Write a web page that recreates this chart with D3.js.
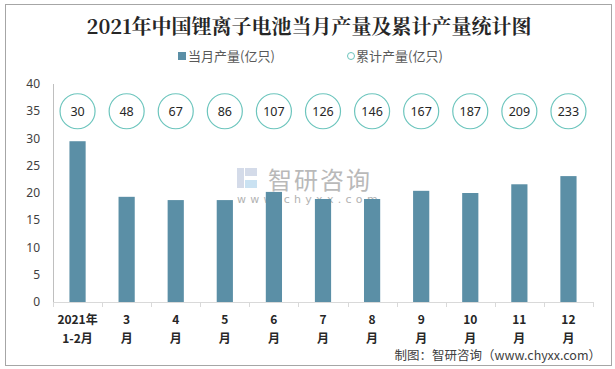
<!DOCTYPE html>
<html><head><meta charset="utf-8">
<script src="https://cdn.jsdelivr.net/npm/d3@7"></script>
<style>body{margin:0;background:#fff}svg{display:block}</style>
</head><body>
<script>
const categories = [["2021年","1-2月"],["3","月"],["4","月"],["5","月"],["6","月"],["7","月"],["8","月"],["9","月"],["10","月"],["11","月"],["12","月"]];
const monthly = [29.5, 19.3, 18.7, 18.7, 20.2, 18.9, 18.9, 20.4, 20.0, 21.6, 23.1];
const cumulative = [30, 48, 67, 86, 107, 126, 146, 167, 187, 209, 233];
const yTicks = [0, 5, 10, 15, 20, 25, 30, 35, 40];
const circleLevel = 35;

const W = 615, H = 369;
const svg = d3.select("body").append("svg").attr("width", W).attr("height", H);
svg.append("rect").attr("x",5.5).attr("y",4.5).attr("width",606).attr("height",361)
  .attr("fill","#fff").attr("stroke","#a6a6a6");

const m = {l:53, r:593, t:84, b:302};
const x = d3.scaleBand().domain(categories.map((d,i)=>i)).range([m.l, m.r]).paddingInner(0.67).paddingOuter(0.335);
const xb = d3.scaleBand().domain(categories.map((d,i)=>i)).range([m.l, m.r]);
const y = d3.scaleLinear().domain([0,40]).range([m.b, m.t]);

// title
svg.append("text").attr("x",309).attr("y",34).attr("text-anchor","middle")
  .attr("font-family","'Noto Serif CJK SC','Noto Sans CJK SC',serif").attr("font-weight","bold")
  .attr("font-size",20).attr("fill","#262626").text("2021年中国锂离子电池当月产量及累计产量统计图");

// legend
const lg = svg.append("g").attr("font-family","'Noto Sans CJK SC',sans-serif").attr("font-size",13).attr("fill","#595959");
lg.append("rect").attr("x",178).attr("y",52).attr("width",8).attr("height",8).attr("fill","#5b8fa6");
lg.append("text").attr("x",188).attr("y",61).text("当月产量(亿只)");
lg.append("circle").attr("cx",351).attr("cy",56).attr("r",3.5).attr("fill","#fff").attr("stroke","#6cc5bd");
lg.append("text").attr("x",356).attr("y",61).text("累计产量(亿只)");

// watermark
const wm = svg.append("g").attr("opacity",0.6);
wm.append("rect").attr("x",237).attr("y",168).attr("width",7).attr("height",20).attr("fill","#b9c4dc");
wm.append("rect").attr("x",245).attr("y",168).attr("width",12).attr("height",8).attr("fill","#b9c4dc");
wm.append("rect").attr("x",245).attr("y",180).attr("width",12).attr("height",8).attr("fill","#a8d0ea");
wm.append("text").attr("x",268).attr("y",189).attr("font-family","'Noto Sans CJK SC',sans-serif")
  .attr("font-size",24).attr("fill","#8c8c8c").attr("letter-spacing",2).text("智研咨询");
wm.append("text").attr("x",237).attr("y",203).attr("font-family","'DejaVu Sans',sans-serif")
  .attr("font-size",11).attr("fill","#808080").attr("letter-spacing",4.3).text("www.chyxx.com");

// y axis
svg.append("line").attr("x1",m.l+0.5).attr("x2",m.l+0.5).attr("y1",m.t).attr("y2",m.b).attr("stroke","#bfbfbf");
svg.append("g").selectAll("text").data(yTicks).join("text")
  .attr("x",40).attr("y",d=>y(d)+4).attr("text-anchor","end")
  .attr("font-family","'Noto Sans',sans-serif").attr("font-size",12).attr("fill","#404040").text(d=>d);

// bars
svg.append("g").selectAll("rect").data(monthly).join("rect")
  .attr("x",(d,i)=>x(i)).attr("width",x.bandwidth()).attr("y",d=>y(d)).attr("height",d=>y(0)-y(d))
  .attr("fill","#5b8fa6");

// x axis
const xa = svg.append("g").attr("stroke","#d9d9d9");
xa.append("line").attr("x1",m.l).attr("x2",m.r).attr("y1",m.b+0.5).attr("y2",m.b+0.5);
xa.selectAll("line.t").data(d3.range(categories.length+1)).join("line").attr("class","t")
  .attr("x1",i=>Math.round(m.l+i*xb.step())+0.5).attr("x2",i=>Math.round(m.l+i*xb.step())+0.5)
  .attr("y1",m.b).attr("y2",m.b+5);
const xl = svg.append("g").attr("font-family","'Noto Sans CJK SC',sans-serif").attr("font-size",12)
  .attr("font-weight","bold").attr("fill","#262626").attr("text-anchor","middle");
categories.forEach((c,i)=>{
  const cx = xb(i)+xb.bandwidth()/2;
  xl.append("text").attr("x",cx).attr("y",324).text(c[0]);
  xl.append("text").attr("x",cx).attr("y",343).text(c[1]);
});

// cumulative circles
const cg = svg.append("g");
cumulative.forEach((v,i)=>{
  const cx = xb(i)+xb.bandwidth()/2;
  cg.append("circle").attr("cx",cx).attr("cy",y(circleLevel)).attr("r",17.5)
    .attr("fill","#fff").attr("stroke","#6cc5bd").attr("stroke-width",1.2);
  cg.append("text").attr("x",cx).attr("y",y(circleLevel)+4.5).attr("text-anchor","middle")
    .attr("font-family","'Noto Sans',sans-serif").attr("font-size",12.5).attr("fill","#262626").text(v);
});

// footer
svg.append("text").attr("x",601).attr("y",360).attr("text-anchor","end")
  .attr("font-family","'Noto Sans CJK SC',monospace").attr("font-size",12.5).attr("fill","#404040")
  .text("制图：智研咨询（www.chyxx.com）");
</script>
</body></html>
